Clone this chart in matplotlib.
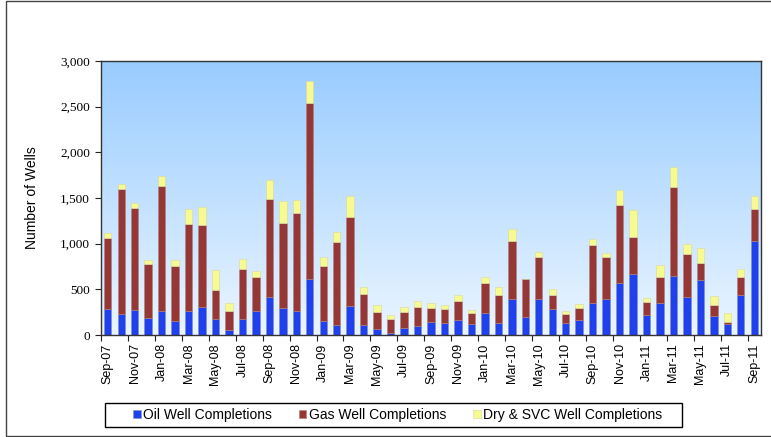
import numpy as np
import matplotlib
matplotlib.use("Agg")
import matplotlib.pyplot as plt
from matplotlib.patches import Rectangle
from matplotlib.ticker import FuncFormatter, FixedLocator

# --- Data ---
months = ["Sep-07", "Oct-07", "Nov-07", "Dec-07", "Jan-08", "Feb-08", "Mar-08", "Apr-08",
          "May-08", "Jun-08", "Jul-08", "Aug-08", "Sep-08", "Oct-08", "Nov-08", "Dec-08",
          "Jan-09", "Feb-09", "Mar-09", "Apr-09", "May-09", "Jun-09", "Jul-09", "Aug-09",
          "Sep-09", "Oct-09", "Nov-09", "Dec-09", "Jan-10", "Feb-10", "Mar-10", "Apr-10",
          "May-10", "Jun-10", "Jul-10", "Aug-10", "Sep-10", "Oct-10", "Nov-10", "Dec-10",
          "Jan-11", "Feb-11", "Mar-11", "Apr-11", "May-11", "Jun-11", "Jul-11", "Aug-11",
          "Sep-11"]

oil = [281, 226, 273, 186, 259, 149, 259, 303, 171, 58, 171, 259, 412, 292, 266, 609,
       149, 106, 313, 106, 62, 26, 73, 95, 139, 128, 160, 117, 244, 135, 390, 193,
       394, 288, 128, 160, 350, 397, 572, 671, 219, 346, 642, 412, 598, 204, 120, 441,
       1024]

gas = [783, 1371, 1119, 594, 1374, 609, 951, 896, 317, 204, 551, 372, 1079, 936, 1075, 1932,
       606, 907, 981, 339, 190, 145, 179, 215, 156, 160, 215, 127, 325, 306, 634, 416,
       463, 149, 105, 139, 638, 460, 850, 404, 145, 292, 980, 470, 193, 120, 25, 190,
       354]

dry = [55, 54, 55, 36, 106, 58, 175, 197, 226, 84, 113, 69, 204, 237, 139, 244,
       94, 117, 230, 76, 80, 44, 54, 62, 55, 36, 62, 33, 65, 80, 139, 7,
       51, 62, 26, 44, 58, 43, 167, 292, 44, 131, 219, 117, 160, 102, 92, 87,
       146]

x = np.arange(len(months))
oil = np.array(oil)
gas = np.array(gas)
dry = np.array(dry)

# --- Figure ---
fig = plt.figure(figsize=(7.71, 4.37), dpi=100)
ax = fig.add_axes([101 / 771, 1 - 335 / 437, (761 - 101) / 771, (335 - 61) / 437])

# gradient background
grad = np.linspace(0, 1, 256).reshape(-1, 1)
top_c = np.array([153, 204, 255]) / 255
bot_c = np.array([234, 245, 255]) / 255
img = top_c + (bot_c - top_c) * grad[..., None]
ax.imshow(img, extent=[-0.5, len(months) - 0.5, 0, 3000], aspect="auto", zorder=0)

w = 0.55
ax.bar(x, oil, w, color="#2040EE", edgecolor="#8090C0", linewidth=0.4,
       label="Oil Well Completions", zorder=2)
ax.bar(x, gas, w, bottom=oil, color="#953735", edgecolor="#B08080", linewidth=0.4,
       label="Gas Well Completions", zorder=2)
ax.bar(x, dry, w, bottom=oil + gas, color="#F7FA90", edgecolor="#D8D8A0", linewidth=0.4,
       label="Dry & SVC Well Completions", zorder=2)

ax.set_xlim(-0.5, len(months) - 0.5)
ax.set_ylim(0, 3000)

# y axis
ax.set_yticks(np.arange(0, 3001, 500))
ax.yaxis.set_major_formatter(FuncFormatter(lambda v, p: f"{int(v):,}"))
for lab in ax.get_yticklabels():
    lab.set_family("Liberation Serif")
    lab.set_fontsize(9.5)
ax.tick_params(axis="y", direction="out", length=4, width=0.8, color="#222222", pad=4)
ax.set_ylabel("Number of Wells", fontsize=10, family="Liberation Sans", labelpad=15)

# x axis: labels on every other month, tick marks at boundaries
ax.set_xticks(x[::2])
ax.set_xticklabels(months[::2], rotation=90, fontsize=9, family="Liberation Sans")
ax.tick_params(axis="x", which="major", length=0, pad=6)
ax.xaxis.set_minor_locator(FixedLocator(np.arange(-0.5, len(months), 2)))
ax.tick_params(axis="x", which="minor", direction="out", length=4, width=0.8, color="#222222")

for s in ax.spines.values():
    s.set_color("#333333")
    s.set_linewidth(1.0)
    s.set_zorder(3)

# legend (frame drawn separately)
leg = fig.legend(loc="center left", bbox_to_anchor=(133 / 771, 1 - 415 / 437), ncol=3,
                 frameon=False, prop={"family": "Liberation Sans", "size": 10},
                 handlelength=0.55, handleheight=0.55, handletextpad=0.2,
                 columnspacing=1.9, borderpad=0, borderaxespad=0)
fig.patches.append(Rectangle((105 / 771, 1 - 427 / 437), 577 / 771, 24 / 437,
                             transform=fig.transFigure, fill=False,
                             edgecolor="black", linewidth=1.0))

# outer chart border
fig.patches.append(Rectangle((6 / 771, 1 / 437), 1.0, 1 - 2 / 437, transform=fig.transFigure,
                             fill=False, edgecolor="#444444", linewidth=1.0))

fig.savefig("out.png", dpi=100)
